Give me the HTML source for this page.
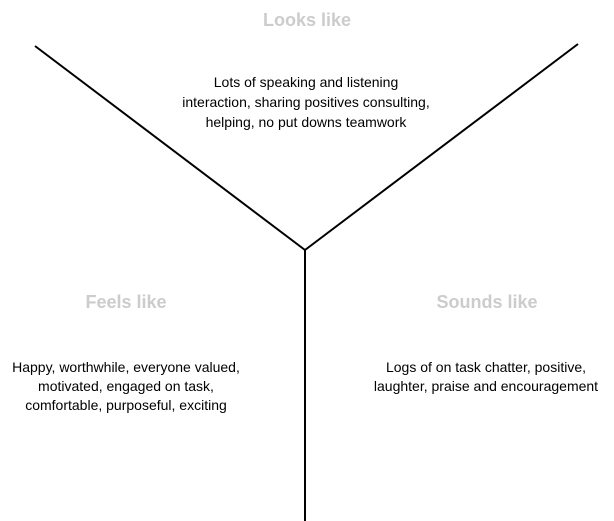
<!DOCTYPE html>
<html><head><style>
body{margin:0;width:614px;height:521px;position:relative;background:#fff;font-family:"Liberation Sans",sans-serif;overflow:hidden}
.t{position:absolute;font-weight:bold;font-size:18px;color:#cccccc;text-align:center;width:200px}
.b{position:absolute;font-size:14px;color:#000;text-align:center;width:300px;white-space:nowrap}
</style></head><body>
<svg width="614" height="521" style="position:absolute;left:0;top:0">
<line x1="35" y1="46" x2="305" y2="250" stroke="#000" stroke-width="2"/>
<line x1="578" y1="44" x2="305" y2="250" stroke="#000" stroke-width="2"/>
<line x1="305" y1="249" x2="305" y2="521" stroke="#000" stroke-width="2"/>
</svg>
<div class="t" style="left:207px;top:10px">Looks like</div>
<div class="b" style="left:156px;top:72px;line-height:20px">Lots of speaking and listening<br>interaction, sharing positives consulting,<br>helping, no put downs teamwork</div>
<div class="t" style="left:26px;top:292px">Feels like</div>
<div class="b" style="left:-24px;top:358px;line-height:19px">Happy, worthwhile, everyone valued,<br>motivated, engaged on task,<br>comfortable, purposeful, exciting</div>
<div class="t" style="left:387px;top:292px">Sounds like</div>
<div class="b" style="left:336px;top:358px;line-height:19px">Logs of on task chatter, positive,<br>laughter, praise and encouragement</div>
</body></html>
